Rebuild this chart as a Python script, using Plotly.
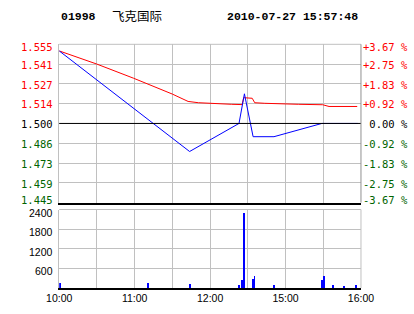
import plotly.graph_objects as go

# ---------------- data ----------------
stock_code = "01998"
stock_name = "飞克国际"
timestamp = "2010-07-27 15:57:48"
prev_close = 1.500

# minutes since 10:00 on a compressed trading axis (10:00-12:30, 14:30-16:00)
price_minutes = [0, 103.7, 143, 147.3, 154.2, 170.8, 208.9, 237.5]
price_values = [1.5504, 1.4805, 1.500, 1.5206, 1.4908, 1.4908, 1.500, 1.500]

avg_minutes = [0, 29.8, 59.2, 90, 102.5, 110.7, 137.2, 145.5, 146.7, 153.5, 155.5,
               163.5, 190.5, 209.6, 214.6, 237]
avg_values = [1.5504, 1.5413, 1.5314, 1.5204, 1.5153, 1.5144, 1.5133, 1.5131, 1.5179,
              1.5175, 1.5144, 1.514, 1.5133, 1.513, 1.5118, 1.5118]

vol_minutes = [1, 71, 104, 143, 145.5, 147, 154.5, 155.5, 171, 209, 211, 218, 227, 236.5]
vol_values = [160, 160, 130, 110, 260, 2320, 290, 380, 110, 260, 380, 110, 80, 110]

price_ticks = [1.445, 1.45875, 1.4725, 1.48625, 1.500, 1.51375, 1.5275, 1.54125, 1.555]
price_labels = ["1.445", "1.459", "1.473", "1.486", "1.500", "1.514", "1.527", "1.541", "1.555"]
pct_labels = ["-3.67 %", "-2.75 %", "-1.83 %", "-0.92 %", "\u00a00.00 %",
              "+0.92 %", "+1.83 %", "+2.75 %", "+3.67 %"]

time_ticks = [0, 30, 60, 90, 120, 150, 180, 210, 240]
time_labels = ["10:00", "", "11:00", "", "12:00", "", "15:00", "", "16:00"]

vol_ticks = [600, 1200, 1800, 2400]
vol_labels = ["600", "1200", "1800", "2400"]

# ---------------- styling ----------------
RED = "#FF0000"
GREEN = "#006400"
BLUE = "#0000FF"
GRID = "#C0C0C0"
MONO = "DejaVu Sans Mono"
SANS = "Liberation Sans, Arial"

X0, X1 = 49.3 / 414, 371.3 / 414
P_DOM = [1 - 202.6 / 314, 1 - 44.3 / 314]
V_DOM = [1 - 288.0 / 314, 1 - 209.5 / 314]

fig = go.Figure()

fig.add_trace(go.Scatter(x=avg_minutes, y=avg_values, mode="lines",
                         line=dict(color=RED, width=1), xaxis="x", yaxis="y",
                         hoverinfo="skip"))
fig.add_trace(go.Scatter(x=price_minutes, y=price_values, mode="lines",
                         line=dict(color=BLUE, width=1), xaxis="x", yaxis="y",
                         hoverinfo="skip"))
fig.add_trace(go.Bar(x=vol_minutes, y=vol_values, width=0.75,
                     marker=dict(color=BLUE, line=dict(width=0)),
                     xaxis="x2", yaxis="y2", hoverinfo="skip"))

annotations = []


def col_for(v):
    if abs(v - prev_close) < 1e-9:
        return "#000000"
    return RED if v > prev_close else GREEN


n = len(price_ticks)
for i, (v, lab, pl) in enumerate(zip(price_ticks, price_labels, pct_labels)):
    c = col_for(v)
    if i == 0:
        ys = 3
    elif i == n - 1:
        ys = -2.5
    else:
        ys = -0.8
    annotations.append(dict(x=44.5 / 414, y=v, xref="paper", yref="y", text=lab,
                            showarrow=False, xanchor="right", yanchor="middle", yshift=ys,
                            font=dict(family=MONO, size=10.5, color=c)))
    annotations.append(dict(x=371.8 / 414, y=v, xref="paper", yref="y", text=pl,
                            showarrow=False, xanchor="left", yanchor="middle", yshift=ys,
                            font=dict(family=MONO, size=10.5, color=c)))

for v, lab in zip(vol_ticks, vol_labels):
    annotations.append(dict(x=44.5 / 414, y=v, xref="paper", yref="y2", text=lab,
                            showarrow=False, xanchor="right", yanchor="middle", yshift=-3,
                            font=dict(family=SANS, size=10.5, color="#000000")))

annotations.append(dict(x=49 / 414, y=1 - 17 / 314, xref="paper", yref="paper",
                        text="<b>" + stock_code + "</b>", showarrow=False,
                        xanchor="left", yanchor="middle",
                        font=dict(family="Liberation Mono", size=11.5, color="#000000")))
annotations.append(dict(x=104 / 414, y=1 - 15.5 / 314, xref="paper", yref="paper",
                        text=stock_name, showarrow=False,
                        xanchor="left", yanchor="middle",
                        font=dict(family="Noto Sans CJK SC", size=12.5, color="#000000")))
annotations.append(dict(x=370.5 / 414, y=1 - 17 / 314, xref="paper", yref="paper",
                        text="<b>" + timestamp + "</b>", showarrow=False,
                        xanchor="right", yanchor="middle",
                        font=dict(family="Liberation Mono", size=11.5, color="#000000")))

shapes = [
    # previous close reference line
    dict(type="line", xref="x domain", yref="y", x0=0, x1=1, y0=prev_close, y1=prev_close,
         line=dict(color="#000000", width=1)),
    # top borders
    dict(type="line", xref="x domain", yref="y domain", x0=0, x1=1, y0=1, y1=1,
         line=dict(color=GRID, width=1)),
    dict(type="line", xref="x2 domain", yref="y2 domain", x0=0, x1=1, y0=1, y1=1,
         line=dict(color=GRID, width=1)),
    # right borders
    dict(type="line", xref="x domain", yref="y domain", x0=1, x1=1, y0=0, y1=1,
         line=dict(color="#909090", width=1)),
    dict(type="line", xref="x2 domain", yref="y2 domain", x0=1, x1=1, y0=0, y1=1,
         line=dict(color=GRID, width=1)),
]

fig.update_layout(
    width=414, height=314,
    margin=dict(l=0, r=0, t=0, b=0),
    paper_bgcolor="#FFFFFF", plot_bgcolor="#FFFFFF",
    showlegend=False,
    bargap=0,
    annotations=annotations,
    shapes=shapes,
    xaxis=dict(domain=[X0, X1], range=[0, 240], tickvals=time_ticks,
               showticklabels=False, showgrid=True, gridcolor=GRID, gridwidth=1,
               showline=True, linecolor="#000000", linewidth=1.5, zeroline=False,
               ticks="", anchor="y", fixedrange=True),
    yaxis=dict(domain=P_DOM, range=[1.445, 1.555], tickvals=price_ticks,
               showticklabels=False, showgrid=True, gridcolor=GRID, gridwidth=1,
               showline=True, linecolor=GRID, linewidth=1, zeroline=False,
               ticks="", anchor="x", fixedrange=True),
    xaxis2=dict(domain=[X0, X1], range=[0, 240], tickvals=time_ticks, ticktext=time_labels,
                showticklabels=True, showgrid=True, gridcolor=GRID, gridwidth=1,
                showline=True, linecolor="#000000", linewidth=1.5, zeroline=False,
                ticks="", anchor="y2", fixedrange=True,
                tickfont=dict(family=SANS, size=10.5, color="#000000")),
    yaxis2=dict(domain=V_DOM, range=[0, 2400], tickvals=vol_ticks,
                showticklabels=False, showgrid=True, gridcolor=GRID, gridwidth=1,
                showline=True, linecolor=GRID, linewidth=1, zeroline=False,
                ticks="", anchor="x2", fixedrange=True),
)

fig.write_html("out.html", config={"displayModeBar": False})
